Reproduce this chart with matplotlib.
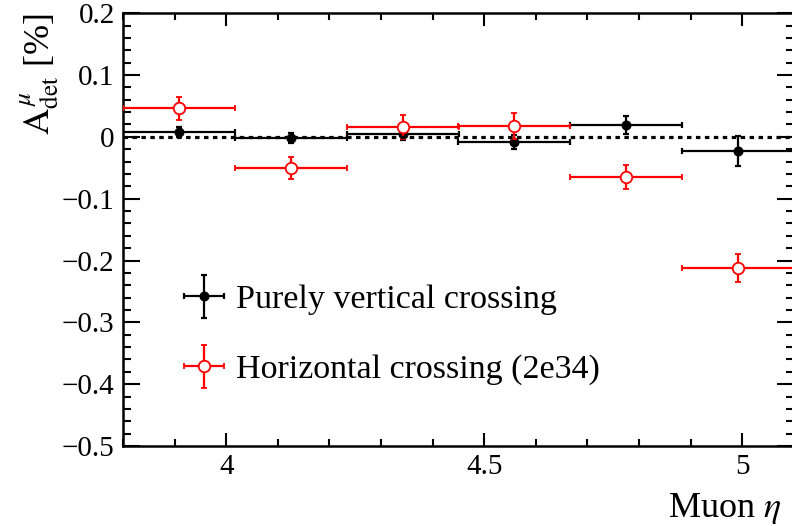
import matplotlib
matplotlib.use("Agg")
import matplotlib.pyplot as plt
from matplotlib.ticker import MultipleLocator, FuncFormatter
from matplotlib.legend_handler import HandlerErrorbar

plt.rcParams['font.family'] = 'Liberation Serif'
plt.rcParams['mathtext.fontset'] = 'stix'

# bin centres and half widths in muon eta (6 bins, 3.8 - 5.1)
eta = [3.908, 4.125, 4.342, 4.558, 4.775, 4.992]
eta_err = [0.1083, 0.1083, 0.1083, 0.1083, 0.1083, 0.1083]

# purely vertical crossing
vert = [0.008, -0.002, 0.004, -0.008, 0.019, -0.023]
vert_err = [0.008, 0.008, 0.009, 0.011, 0.014, 0.024]

# horizontal crossing (2e34)
horiz = [0.046, -0.050, 0.016, 0.017, -0.065, -0.212]
horiz_err = [0.018, 0.018, 0.019, 0.021, 0.019, 0.022]

fig = plt.figure(figsize=(7.92, 5.26), dpi=100)
ax = fig.add_axes([0.1553, 0.152, 0.847, 0.823])

ax.errorbar(eta, vert, xerr=eta_err, yerr=vert_err, fmt='o', color='black',
            ms=6.2, lw=1.6, capsize=2, capthick=1.6,
            label='Purely vertical crossing', zorder=3)
ax.errorbar(eta, horiz, xerr=eta_err, yerr=horiz_err, fmt='o', color='red',
            mfc='white', mec='red', mew=1.3, ms=8.3, lw=1.6, capsize=2,
            capthick=1.6, label='Horizontal crossing (2e34)', zorder=4)
ax.axhline(0, color='black', ls=(0, (1.4, 1.4)), lw=2.3, zorder=5)

ax.set_xlim(3.8, 5.1)
ax.set_ylim(-0.5, 0.2)

ax.xaxis.set_major_locator(MultipleLocator(0.5))
ax.xaxis.set_minor_locator(MultipleLocator(0.1))
ax.yaxis.set_major_locator(MultipleLocator(0.1))
ax.yaxis.set_minor_locator(MultipleLocator(0.02))
ax.xaxis.set_major_formatter(FuncFormatter(lambda v, p: ('%g' % round(v, 2))))
ax.yaxis.set_major_formatter(FuncFormatter(
    lambda v, p: ('%g' % round(v, 2)).replace('-', '\u2212')))

ax.tick_params(which='both', direction='in', top=True, right=True,
               width=1.5, labelsize=21)
ax.tick_params(axis='x', which='major', length=9.5, pad=6)
ax.tick_params(axis='x', which='minor', length=4.7)
ax.tick_params(axis='y', which='major', length=12, pad=6)
ax.tick_params(axis='y', which='minor', length=6)
for s in ax.spines.values():
    s.set_linewidth(1.8)

ax.set_ylabel(r'$\mathrm{A}^{\,\mu}_{\mathrm{det}}$ [%]', fontsize=26,
              ha='right')
ax.yaxis.set_label_coords(-0.092, 1.0)
fig.text(668 / 792, 1 - 517 / 526, r'Muon $\eta$', fontsize=26, ha='left',
         va='baseline')

ax.legend(loc='center left', bbox_to_anchor=(0.09, 0.257), frameon=False,
          fontsize=24.5, handlelength=1.2, handletextpad=0.35,
          labelspacing=1.15, borderpad=0, borderaxespad=0,
          handler_map={type(ax.containers[0]): HandlerErrorbar(xerr_size=0.59,
                                                                 yerr_size=0.63)})

fig.savefig('out.png', dpi=100)
